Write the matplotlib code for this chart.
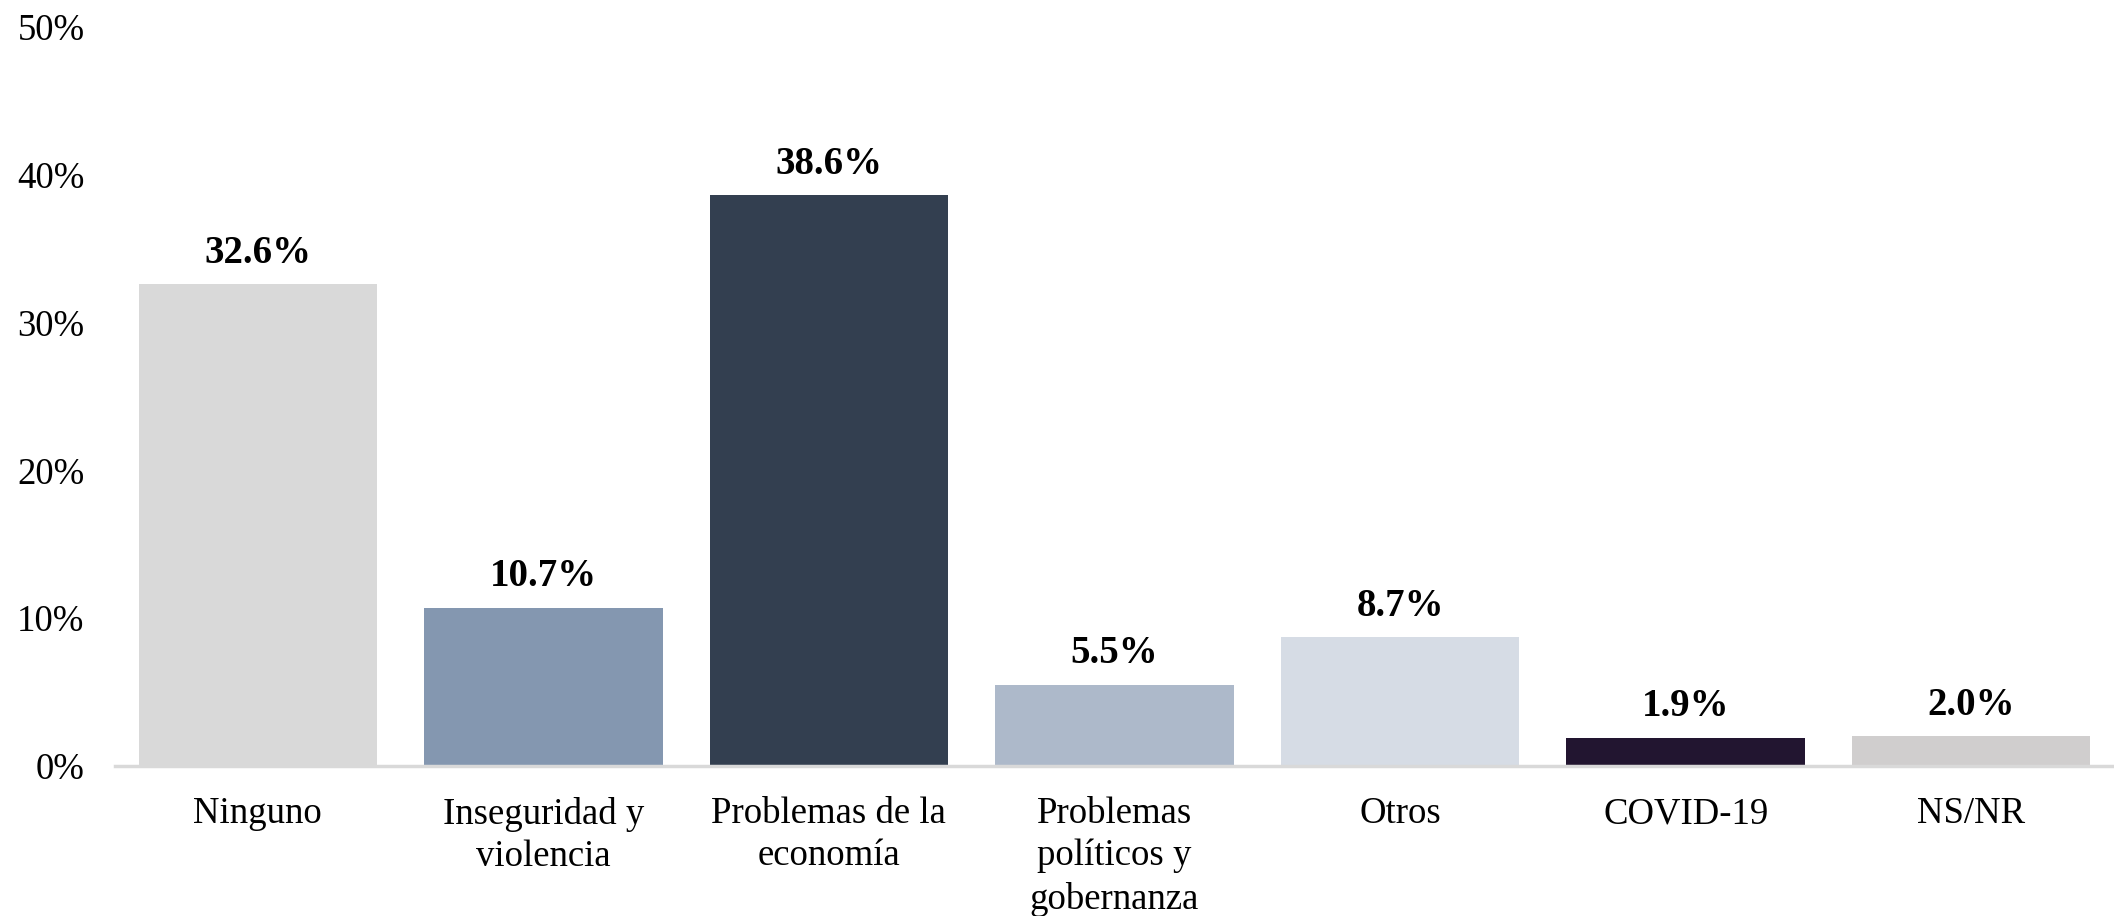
import matplotlib
matplotlib.use("Agg")
import matplotlib.pyplot as plt
from matplotlib.ticker import FuncFormatter

categories = ["Ninguno", "Inseguridad y\nviolencia", "Problemas de la\neconomía",
              "Problemas\npolíticos y\ngobernanza", "Otros", "COVID-19", "NS/NR"]
values = [32.6, 10.7, 38.6, 5.5, 8.7, 1.9, 2.0]
colors = ["#D9D9D9", "#8497B0", "#333F50", "#ADB9CA", "#D6DCE5", "#221530", "#D0CECE"]
yticks = [0, 10, 20, 30, 40, 50]

plt.rcParams['font.family'] = ['Liberation Serif', 'DejaVu Serif']

fig = plt.figure(figsize=(21.14, 9.16), dpi=100)
ax = fig.add_axes([0.0544, 0.1638, 0.9456, 0.8067])

x = list(range(len(categories)))
ax.bar(x, values, width=0.835, color=colors, zorder=2)

for xi, v in zip(x, values):
    ax.annotate(f"{v:.1f}%", (xi, v), xytext=(0, 9), textcoords="offset points",
                ha="center", va="bottom", fontsize=28, fontweight="bold")

ax.set_xlim(-0.5, 6.5)
ax.set_ylim(0, 50)
ax.set_yticks(yticks)
ax.yaxis.set_major_formatter(FuncFormatter(lambda v, p: f"{v:.0f}%"))
ax.set_xticks(x)
ax.set_xticklabels(categories, fontsize=26.5, linespacing=1.3, va="top")
ax.tick_params(axis="y", labelsize=26.5, length=0, pad=22)
ax.tick_params(axis="x", length=0, pad=22)

for s in ["top", "right", "left"]:
    ax.spines[s].set_visible(False)
ax.spines["bottom"].set_color("#D9D9D9")
ax.spines["bottom"].set_linewidth(2.5)
ax.spines["bottom"].set_zorder(3)

fig.savefig("out.png", dpi=100)
